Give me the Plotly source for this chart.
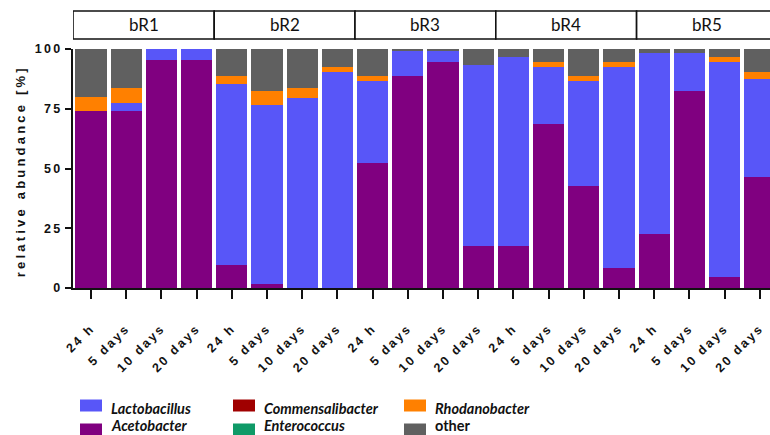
import json
import plotly.graph_objects as go

# ---- data -------------------------------------------------------------
reactors = ["bR1", "bR2", "bR3", "bR4", "bR5"]
timepoints = ["24 h", "5 days", "10 days", "20 days"]

acetobacter = [74, 74, 95.5, 95.5, 9.5, 1.5, 0, 0, 52.5, 88.5, 94.5, 17.5,
               17.5, 68.5, 42.5, 8.5, 22.5, 82.5, 4.5, 46.5]
lactobacillus = [0, 3.5, 4.5, 4.5, 76, 75, 79.5, 90.5, 34, 11, 5, 76,
                 79, 24, 44, 84, 76, 16, 90, 41]
commensalibacter = [0] * 20
enterococcus = [0] * 20
rhodanobacter = [6, 6, 0, 0, 3, 6, 4, 2, 2, 0, 0, 0,
                 0, 2, 2, 2, 0, 0, 2, 3]
other = [20, 16.5, 0, 0, 11.5, 17.5, 16.5, 7.5, 11.5, 0.5, 0.5, 6.5,
         3.5, 5.5, 11.5, 5.5, 1.5, 1.5, 3.5, 9.5]

y_ticks = [0, 25, 50, 75, 100]

# stacking order, bottom to top
series = [
    ("Acetobacter", acetobacter, "#800080", True),
    ("Lactobacillus", lactobacillus, "#5856F8", True),
    ("Commensalibacter", commensalibacter, "#A00000", True),
    ("Enterococcus", enterococcus, "#0F9A67", True),
    ("Rhodanobacter", rhodanobacter, "#FF8000", True),
    ("other", other, "#606060", False),
]

# legend grid: column, row for each series
legend_slots = {
    "Lactobacillus": (0, 0), "Acetobacter": (0, 1),
    "Commensalibacter": (1, 0), "Enterococcus": (1, 1),
    "Rhodanobacter": (2, 0), "other": (2, 1),
}

# ---- geometry helpers ---------------------------------------------------
W, H = 770, 435
L, R, T, B = 73, 0, 49, 147
PW, PH = W - L - R, H - T - B
pitch = 35.2
x0 = -(91 - L) / pitch
x1 = x0 + PW / pitch


def px_x(px):
    return (px - L) / PW


def px_y(py):
    return (H - B - py) / PH


n_groups = len(reactors)
n_per = len(timepoints)
xs = list(range(n_groups * n_per))
tick_text = timepoints * n_groups

axis_font = dict(family="Liberation Sans, Arial", size=12.5, color="#111", weight=700)

fig = go.Figure()
for name, vals, color, _ in series:
    fig.add_trace(go.Bar(
        x=xs, y=vals, name=name, marker=dict(color=color, line=dict(width=0)),
        showlegend=False,
    ))

shapes = []
annotations = []

# y-axis title (first annotation; letter-spaced via CSS)
annotations.append(dict(
    text="<b>relative abundance [%]</b>", xref="paper", yref="paper",
    x=px_x(20), y=px_y(171), textangle=-90, showarrow=False,
    xanchor="center", yanchor="middle",
    font=dict(family="Liberation Sans, Arial", size=13, color="#111"),
))

# reactor header boxes
for g, label in enumerate(reactors):
    left = x0 if g == 0 else g * n_per - 0.5
    right = (g + 1) * n_per - 0.5 if g < n_groups - 1 else x1 + 1
    shapes.append(dict(
        type="rect", xref="x", yref="paper", x0=left, x1=right,
        y0=px_y(39), y1=px_y(11), line=dict(color="#111", width=1.6),
        fillcolor="white", layer="above",
    ))
    annotations.append(dict(
        text=label, xref="x", yref="paper",
        x=g * n_per + (n_per - 1) / 2, y=px_y(25), showarrow=False,
        xanchor="center", yanchor="middle",
        font=dict(family="Lato, Open Sans", size=17, color="#111"),
    ))

# legend
col_x = [80, 233, 404]
row_sw = [399.5, 423.5]
row_txt = [408, 425]
for name, vals, color, italic in series:
    c, r = legend_slots[name]
    shapes.append(dict(
        type="rect", xref="paper", yref="paper",
        x0=px_x(col_x[c]), x1=px_x(col_x[c] + 22),
        y0=px_y(row_sw[r] + 12), y1=px_y(row_sw[r]),
        line=dict(width=0), fillcolor=color,
    ))
    annotations.append(dict(
        text=f"<b><i>{name}</i></b>" if italic else f"<b>{name}</b>",
        xref="paper", yref="paper", xanchor="left", yanchor="middle",
        x=px_x(col_x[c] + 29), y=px_y(row_txt[r]), showarrow=False,
        font=dict(family="Lato, Open Sans", size=14.5, color="#111"),
    ))

fig.update_layout(
    width=W, height=H, barmode="stack", bargap=0.11,
    margin=dict(l=L, r=R, t=T, b=B, pad=0),
    plot_bgcolor="white", paper_bgcolor="white",
    shapes=shapes, annotations=annotations, showlegend=False,
)
fig.update_xaxes(
    range=[x0, x1], tickmode="array", tickvals=xs, ticktext=tick_text,
    tickangle=-45, ticks="outside", ticklen=9, tickwidth=2, tickcolor="#111",
    ticklabelstandoff=17,
    showline=True, linewidth=2, linecolor="#111", showgrid=False, zeroline=False,
    tickfont=axis_font,
)
fig.update_yaxes(
    range=[0, 100], tickmode="array", tickvals=y_ticks,
    ticks="outside", ticklen=6, tickwidth=2, tickcolor="#111",
    showline=True, linewidth=2, linecolor="#111", showgrid=False, zeroline=False,
    tickfont=axis_font,
)

# Prism-style spaced lettering for axis text
css = (".xtick text, .ytick text {letter-spacing: 2.3px; font-weight: 700;} "
       ".annotation[data-index='0'] text {letter-spacing: 3.2px;}")
post = ("var s=document.createElement('style');s.textContent=" + json.dumps(css)
        + ";document.head.appendChild(s);")
fig.write_html("out.html", post_script=post)
